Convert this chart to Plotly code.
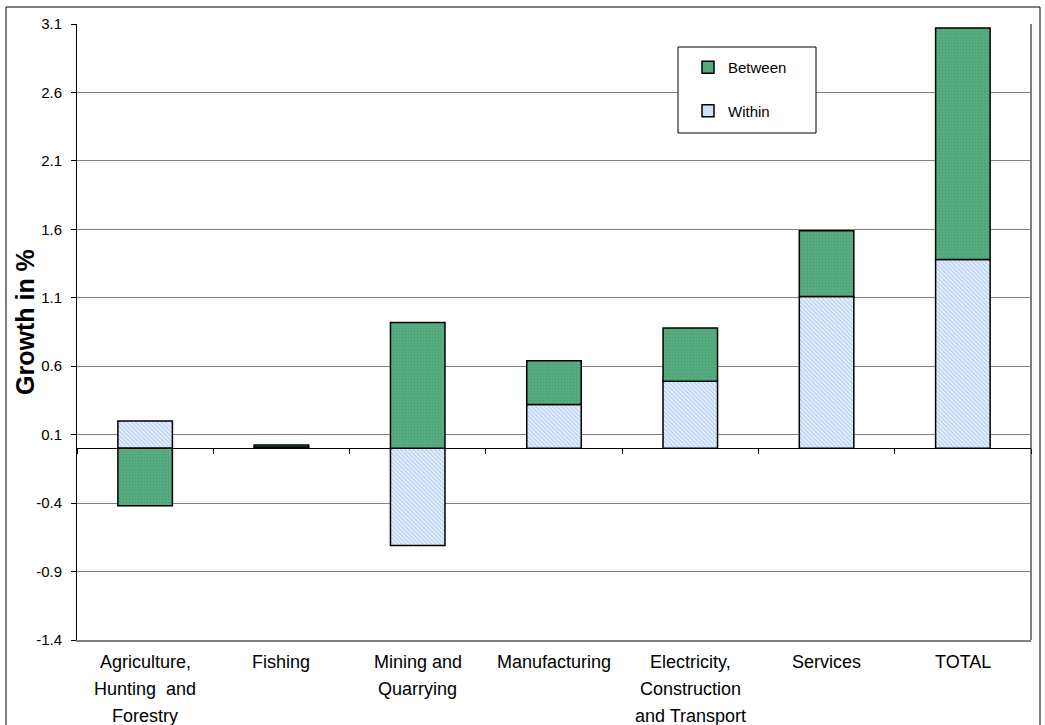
import plotly.graph_objects as go

# Sector labels (one entry per line of the wrapped category label)
categories = ["Agriculture", "Fishing", "Mining", "Manufacturing",
              "Electricity", "Services", "TOTAL"]
label_lines = [
    ["Agriculture,", "Hunting  and", "Forestry"],
    ["Fishing"],
    ["Mining and", "Quarrying"],
    ["Manufacturing"],
    ["Electricity,", "Construction", "and Transport"],
    ["Services"],
    ["TOTAL"],
]

# Growth decomposition, in percent
within = [0.20, 0.01, -0.71, 0.32, 0.49, 1.11, 1.38]
between = [-0.42, 0.015, 0.92, 0.32, 0.39, 0.48, 1.69]

# Value axis ticks
y_ticks = [-1.4, -0.9, -0.4, 0.1, 0.6, 1.1, 1.6, 2.1, 2.6, 3.1]
y_tick_text = ["-1.4", "-0.9", "-0.4", "0.1", "0.6", "1.1", "1.6", "2.1",
               "2.6", "3.1"]

Y_MIN, Y_MAX = y_ticks[0], y_ticks[-1]
W, H = 1045, 725
M_L, M_R, M_T, M_B = 77, 14, 24, 85
plot_w = W - M_L - M_R
plot_h = H - M_T - M_B

FONT = "Liberation Sans, Arial, sans-serif"

fig = go.Figure()

fig.add_trace(go.Bar(
    x=categories, y=within, name="Within", width=0.4,
    legendgroup="w", legendrank=2,
    marker=dict(
        color="#ffffff",
        line=dict(color="#000000", width=1.5),
        pattern=dict(shape="\\", fgcolor="#7eadee", bgcolor="#ffffff",
                     size=3, solidity=0.7),
    ),
))
fig.add_trace(go.Bar(
    x=categories, y=between, name="Between", width=0.4,
    legendgroup="b", legendrank=1,
    marker=dict(
        color="#4fa77b",
        line=dict(color="#000000", width=1.5),
        pattern=dict(shape=".", fgcolor="#3f9469", bgcolor="#58ad83",
                     size=3, solidity=0.35),
    ),
))
# carrier trace for the secondary x-axis drawn along the zero line
fig.add_trace(go.Scatter(x=[None], y=[None], xaxis="x2", showlegend=False,
                         hoverinfo="skip"))

zero_pos = (0 - Y_MIN) / (Y_MAX - Y_MIN)


def px_x(px):
    return (px - M_L) / plot_w


def px_y(py):
    return (H - M_B - py) / plot_h


annotations = []
for cat, lines in zip(categories, label_lines):
    for j, line in enumerate(lines):
        annotations.append(dict(
            x=cat, y=0, xref="x", yref="paper", text=line,
            showarrow=False, xanchor="center", yanchor="top",
            yshift=-10 - 27 * j,
            font=dict(family=FONT, size=18, color="#000000"),
        ))

# value-axis title
annotations.append(dict(
    x=px_x(25), y=px_y(322), xref="paper", yref="paper",
    text="<b>Growth in %</b>", textangle=-90, showarrow=False,
    xanchor="center", yanchor="middle",
    font=dict(family=FONT, size=25, color="#000000"),
))

shapes = [
    # outer frame of the chart
    dict(type="rect", xref="paper", yref="paper",
         x0=px_x(6), x1=px_x(1040), y0=px_y(740), y1=px_y(7),
         line=dict(color="#000000", width=1), layer="above"),
    # right edge of the plot area
    dict(type="line", xref="paper", yref="paper", x0=1, x1=1, y0=0, y1=1,
         line=dict(color="#808080", width=2), layer="below"),
    # legend frame
    dict(type="rect", xref="paper", yref="paper",
         x0=px_x(678), x1=px_x(816), y0=px_y(133), y1=px_y(47),
         fillcolor="#ffffff", line=dict(color="#000000", width=1),
         layer="above"),
]

fig.update_layout(
    width=W, height=H,
    margin=dict(l=M_L, r=M_R, t=M_T, b=M_B, autoexpand=False),
    paper_bgcolor="#ffffff", plot_bgcolor="#ffffff",
    barmode="relative",
    bargap=0.6,
    font=dict(family=FONT, color="#000000"),
    showlegend=True,
    legend=dict(
        x=px_x(688), y=px_y(51), xanchor="left", yanchor="top",
        bgcolor="rgba(0,0,0,0)", borderwidth=0,
        font=dict(family=FONT, size=15, color="#000000"),
        traceorder="grouped", tracegroupgap=21,
    ),
    xaxis=dict(
        type="category", range=[-0.5, 6.5],
        showticklabels=False, ticks="", showgrid=False, zeroline=False,
        showline=True, linecolor="#808080", linewidth=2,
    ),
    xaxis2=dict(
        overlaying="x", anchor="free", position=zero_pos, side="bottom",
        range=[-0.5, 6.5], tickmode="linear", tick0=-0.5, dtick=1,
        ticks="outside", ticklen=5, tickcolor="#000000", tickwidth=1,
        showticklabels=False, showgrid=False, zeroline=False,
        showline=True, linecolor="#000000", linewidth=1,
    ),
    yaxis=dict(
        range=[Y_MIN, Y_MAX], tickmode="array", tickvals=y_ticks,
        ticktext=y_tick_text,
        showgrid=True, gridcolor="#808080", gridwidth=1,
        zeroline=True, zerolinecolor="#000000", zerolinewidth=1,
        showline=True, linecolor="#000000", linewidth=1,
        ticks="outside", ticklen=5, tickcolor="#000000",
        ticklabelstandoff=6,
        tickfont=dict(family=FONT, size=15, color="#000000"),
    ),
    annotations=annotations,
    shapes=shapes,
)

fig.write_html("out.html")
